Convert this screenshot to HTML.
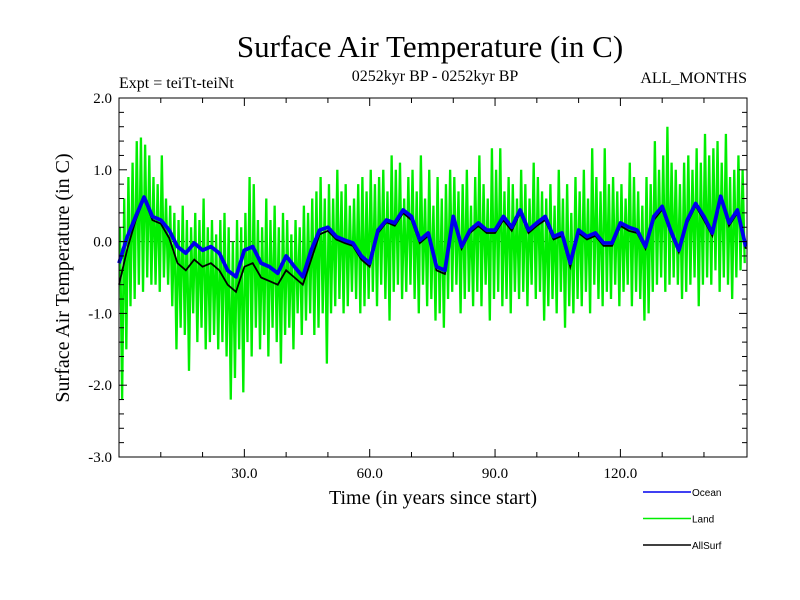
<!DOCTYPE html>
<html><head><meta charset="utf-8">
<style>
html,body{margin:0;padding:0;background:#fff;}
svg{display:block;}
text{font-family:"Liberation Serif",serif;fill:#000;}
.sans{font-family:"Liberation Sans",sans-serif;}
</style></head>
<body>
<svg id="chart" width="800" height="600" viewBox="0 0 800 600">
<rect width="800" height="600" fill="#fff"/>
<text x="430" y="57" font-size="31" text-anchor="middle">Surface Air Temperature (in C)</text>
<text x="435" y="81" font-size="16" text-anchor="middle">0252kyr BP - 0252kyr BP</text>
<text x="119" y="88" font-size="16">Expt = teiTt-teiNt</text>
<text x="747" y="83" font-size="16" text-anchor="end">ALL_MONTHS</text>
<text x="433" y="504" font-size="20" text-anchor="middle">Time (in years since start)</text>
<text transform="translate(69,278) rotate(-90)" font-size="20" text-anchor="middle">Surface Air Temperature (in C)</text>
<g id="plot"></g>
<g id="axes"></g>
<g id="legend"></g>
</svg>
<script>
const xTicks=[30,60,90,120];
const xTickLabels=["30.0","60.0","90.0","120.0"];
const yTicks=[2,1,0,-1,-2,-3];
const yTickLabels=["2.0","1.0","0.0","-1.0","-2.0","-3.0"];
// Ocean: every 2 years, 0..150
const oceanYears=[];for(let i=0;i<=75;i++)oceanYears.push(i*2);
const ocean=[-0.3,0.07,0.35,0.62,0.35,0.3,0.16,-0.07,-0.16,-0.02,-0.12,-0.07,-0.16,-0.4,-0.49,-0.12,-0.07,-0.3,-0.35,-0.44,-0.2,-0.35,-0.49,-0.12,0.16,0.2,0.07,0.02,-0.02,-0.2,-0.3,0.16,0.3,0.26,0.44,0.35,0.02,0.12,-0.35,-0.4,0.35,-0.07,0.16,0.26,0.16,0.16,0.35,0.2,0.44,0.16,0.26,0.35,0.07,0.12,-0.3,0.16,0.07,0.12,-0.02,-0.02,0.26,0.2,0.16,-0.07,0.35,0.49,0.16,-0.12,0.3,0.53,0.35,0.12,0.63,0.26,0.44,-0.07];
const allSurf=[-0.6,-0.1,0.3,0.6,0.3,0.25,0.05,-0.3,-0.4,-0.25,-0.35,-0.3,-0.4,-0.6,-0.7,-0.35,-0.3,-0.5,-0.55,-0.6,-0.4,-0.5,-0.6,-0.25,0.1,0.15,0.03,-0.02,-0.06,-0.25,-0.35,0.12,0.27,0.22,0.4,0.3,-0.02,0.08,-0.4,-0.45,0.3,-0.1,0.12,0.22,0.12,0.12,0.3,0.15,0.4,0.12,0.22,0.3,0.03,0.08,-0.35,0.12,0.03,0.08,-0.06,-0.06,0.22,0.15,0.12,-0.1,0.3,0.45,0.12,-0.15,0.26,0.5,0.3,0.08,0.6,0.22,0.4,-0.1];
// Land: yearly upper and lower excursions, 0..149
const landHigh=[0.2,0.6,0.9,1.1,1.4,1.45,1.35,1.2,0.9,0.8,1.2,0.6,0.5,0.4,0.3,0.5,0.3,0.2,0.4,0.3,0.6,0.2,0.3,0.1,0.3,0.4,0.2,0.0,0.3,0.2,0.4,0.9,0.8,0.3,0.2,0.6,0.3,0.5,0.2,0.4,0.3,0.1,0.3,0.2,0.5,0.4,0.6,0.7,0.9,0.6,0.8,0.6,1.0,0.7,0.8,0.5,0.6,0.8,0.9,0.7,1.0,0.8,0.9,1.0,0.7,1.2,1.0,1.1,0.6,0.9,1.0,0.7,1.2,0.6,1.0,0.5,0.9,0.6,0.8,1.0,0.9,0.7,0.8,1.0,0.5,0.9,1.2,0.8,0.6,1.3,1.0,1.3,0.7,0.9,0.8,0.6,1.0,0.8,0.6,1.1,0.9,0.7,0.6,0.8,0.5,1.0,0.6,0.8,0.4,0.9,0.7,1.0,0.6,1.3,0.9,0.7,1.3,0.8,0.9,0.7,0.8,0.6,1.1,0.9,0.7,0.5,0.9,0.8,1.4,1.0,1.2,1.6,1.1,1.0,0.8,1.1,1.2,1.0,1.3,1.1,1.5,1.2,1.3,1.4,1.1,1.5,0.9,1.0,1.2,1.0];
const landLow=[-2.2,-1.5,-0.9,-0.8,-0.6,-0.7,-0.5,-0.6,-0.6,-0.7,-0.5,-0.6,-0.9,-1.5,-1.2,-1.3,-1.8,-1.0,-1.4,-1.2,-1.5,-1.4,-1.3,-1.5,-1.4,-1.6,-2.2,-1.9,-1.5,-2.1,-1.4,-1.6,-1.2,-1.5,-1.3,-1.6,-1.2,-1.4,-1.7,-1.3,-1.2,-1.5,-1.0,-1.3,-1.1,-1.0,-1.3,-1.2,-1.0,-1.7,-1.0,-0.9,-0.8,-1.0,-0.9,-0.7,-0.8,-1.0,-0.9,-0.8,-0.7,-0.9,-0.6,-0.8,-1.1,-0.7,-0.6,-0.8,-0.7,-0.6,-0.8,-1.0,-0.6,-0.9,-0.8,-1.1,-1.0,-1.2,-0.8,-0.7,-0.6,-1.0,-0.8,-0.7,-0.9,-0.7,-0.9,-0.6,-1.1,-0.8,-0.7,-0.9,-0.8,-1.0,-0.7,-0.8,-0.7,-0.9,-0.6,-0.8,-0.7,-1.1,-0.9,-0.8,-1.0,-0.7,-1.2,-0.9,-1.0,-0.8,-0.9,-0.7,-1.0,-0.6,-0.8,-0.9,-0.7,-0.8,-0.6,-0.9,-0.7,-0.6,-0.9,-0.7,-0.8,-1.1,-1.0,-0.7,-0.6,-0.5,-0.7,-0.6,-0.5,-0.6,-0.8,-0.7,-0.6,-0.5,-0.9,-0.6,-0.5,-0.6,-0.4,-0.7,-0.5,-0.6,-0.8,-0.5,-0.4,-0.3];

const L=119,R=747,T=98,B=457,X0=0,X1=150.3,Y0=-3,Y1=2;
const sx=v=>L+(v-X0)/(X1-X0)*(R-L);
const sy=v=>B-(v-Y0)/(Y1-Y0)*(B-T);
const NS="http://www.w3.org/2000/svg";
function mk(tag,attrs,parent){const e=document.createElementNS(NS,tag);for(const k in attrs)e.setAttribute(k,attrs[k]);parent.appendChild(e);return e;}
const plot=document.getElementById('plot'),axes=document.getElementById('axes'),legend=document.getElementById('legend');

const z=mk('line',{x1:L,x2:R,y1:sy(0),y2:sy(0),stroke:'#000','stroke-width':1,'stroke-dasharray':'6,4'},plot);



let pts=[];
for(let i=0;i<landHigh.length;i++){
  pts.push(sx(i+0.25)+','+sy(landHigh[i]));
  pts.push(sx(i+0.75)+','+sy(landLow[i]));
}
const land=mk('polyline',{points:pts.join(' '),fill:'none',stroke:'#00ee00','stroke-width':2.3},plot);



const all=mk('polyline',{points:oceanYears.map((y,i)=>sx(y)+','+sy(allSurf[i])).join(' '),fill:'none',stroke:'#000','stroke-width':1.8},plot);



const oc=mk('polyline',{points:oceanYears.map((y,i)=>sx(y)+','+sy(ocean[i])).join(' '),fill:'none',stroke:'#0000ee','stroke-width':3.8,'stroke-linejoin':'round'},plot);



const fr=mk('rect',{x:L,y:T,width:R-L,height:B-T,fill:'none',stroke:'#000','stroke-width':1},axes);


for(let v=10;v<150;v+=10){
  const major=v%30===0, len=major?8:5;
  mk('line',{x1:sx(v),x2:sx(v),y1:B,y2:B-len,stroke:'#000'},axes);
  mk('line',{x1:sx(v),x2:sx(v),y1:T,y2:T+len,stroke:'#000'},axes);
}
xTicks.forEach((v,i)=>{
  const t=mk('text',{x:sx(v),y:B+21,'font-size':15,'text-anchor':'middle'},axes);
  t.textContent=xTickLabels[i];
  
  
});
for(let k=0;k<=25;k++){
  const v=-3+k*0.2, major=k%5===0, len=major?8:5;
  mk('line',{x1:L,x2:L+len,y1:sy(v),y2:sy(v),stroke:'#000'},axes);
  mk('line',{x1:R,x2:R-len,y1:sy(v),y2:sy(v),stroke:'#000'},axes);
}
yTicks.forEach((v,i)=>{
  const t=mk('text',{x:L-7,y:sy(v)+5,'font-size':15,'text-anchor':'end'},axes);
  t.textContent=yTickLabels[i];
  
  
});
const legNames=['Ocean','Land','AllSurf'],legColors=['#0000ee','#00ee00','#000'];
legNames.forEach((n,i)=>{
  const y=492+i*26.5;
  const ln=mk('line',{x1:643,x2:691,y1:y,y2:y,stroke:legColors[i],'stroke-width':1.5},legend);
  
  
  const t=mk('text',{x:692,y:y+4,'font-size':10,class:'sans'},legend);
  t.textContent=n;
  
  
});
</script>
</body></html>
